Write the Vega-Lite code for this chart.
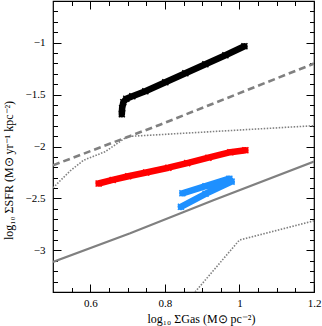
{
  "$schema": "https://vega.github.io/schema/vega-lite/v6.json",
  "width": 261,
  "height": 291,
  "autosize": {"type": "none"},
  "padding": {"left": 53, "top": 1, "right": 8, "bottom": 34},
  "background": "white",
  "config": {
    "view": {"stroke": "black", "strokeWidth": 1.2},
    "axis": {
      "labelFont": "Liberation Serif",
      "titleFont": "Liberation Serif",
      "labelFontSize": 11,
      "titleFontSize": 12,
      "titleFontWeight": "normal",
      "labelColor": "black",
      "titleColor": "black",
      "grid": false,
      "tickColor": "black",
      "tickWidth": 1,
      "domain": false
    }
  },
  "datasets": {
    "curves": [
      {"curve": "solid", "i": 0, "x": 0.5, "y": -3.11},
      {"curve": "solid", "i": 1, "x": 0.707, "y": -2.835},
      {"curve": "solid", "i": 2, "x": 0.93, "y": -2.517},
      {"curve": "solid", "i": 3, "x": 1.2, "y": -2.144},
      {"curve": "dashed", "i": 0, "x": 0.5, "y": -2.181},
      {"curve": "dashed", "i": 1, "x": 0.787, "y": -1.79},
      {"curve": "dashed", "i": 2, "x": 1.2, "y": -1.202},
      {"curve": "dotted1", "i": 0, "x": 0.5, "y": -2.398},
      {"curve": "dotted1", "i": 1, "x": 0.546, "y": -2.235},
      {"curve": "dotted1", "i": 2, "x": 0.582, "y": -2.132},
      {"curve": "dotted1", "i": 3, "x": 0.64, "y": -2.05},
      {"curve": "dotted1", "i": 4, "x": 0.699, "y": -1.904},
      {"curve": "dotted1", "i": 5, "x": 1.2, "y": -1.8},
      {"curve": "dotted2", "i": 0, "x": 0.881, "y": -3.4},
      {"curve": "dotted2", "i": 1, "x": 1.0, "y": -2.9},
      {"curve": "dotted2", "i": 2, "x": 1.2, "y": -2.715}
    ],
    "tracks": [
      {"series": "black", "i": 0, "x": 0.6846, "y": -1.689},
      {"series": "black", "i": 1, "x": 0.6854, "y": -1.632},
      {"series": "black", "i": 2, "x": 0.6886, "y": -1.574},
      {"series": "black", "i": 3, "x": 0.6966, "y": -1.54},
      {"series": "black", "i": 4, "x": 0.7128, "y": -1.516},
      {"series": "black", "i": 5, "x": 0.7477, "y": -1.468},
      {"series": "black", "i": 6, "x": 0.8013, "y": -1.382},
      {"series": "black", "i": 7, "x": 0.855, "y": -1.295},
      {"series": "black", "i": 8, "x": 0.9087, "y": -1.209},
      {"series": "black", "i": 9, "x": 0.9624, "y": -1.122},
      {"series": "black", "i": 10, "x": 1.0134, "y": -1.036},
      {"series": "red", "i": 0, "x": 0.6223, "y": -2.356},
      {"series": "red", "i": 1, "x": 0.66, "y": -2.322},
      {"series": "red", "i": 2, "x": 0.702, "y": -2.286},
      {"series": "red", "i": 3, "x": 0.75, "y": -2.25},
      {"series": "red", "i": 4, "x": 0.8094, "y": -2.204},
      {"series": "red", "i": 5, "x": 0.86, "y": -2.16},
      {"series": "red", "i": 6, "x": 0.9168, "y": -2.108},
      {"series": "red", "i": 7, "x": 0.9758, "y": -2.055},
      {"series": "red", "i": 8, "x": 1.016, "y": -2.036},
      {"series": "blue", "i": 0, "x": 0.847, "y": -2.45},
      {"series": "blue", "i": 1, "x": 0.909, "y": -2.382},
      {"series": "blue", "i": 2, "x": 0.973, "y": -2.31},
      {"series": "blue", "i": 3, "x": 0.979, "y": -2.338},
      {"series": "blue", "i": 4, "x": 0.909, "y": -2.455},
      {"series": "blue", "i": 5, "x": 0.843, "y": -2.58}
    ]
  },
  "layer": [
    {
      "data": {"name": "curves"},
      "transform": [{"filter": "datum.curve === 'solid'"}],
      "mark": {"type": "line", "color": "#808080", "strokeWidth": 2.2, "clip": true},
      "encoding": {
        "x": {"field": "x", "type": "quantitative", "scale": {"domain": [0.5, 1.2], "nice": false, "zero": false},
          "axis": {"orient": "bottom", "values": [0.6, 0.8, 1, 1.2], "format": "~g", "ticks": false, "tickSize": 0, "labelPadding": 5, "labelFlush": false, "labelOverlap": false,
            "title": "log₁₀ ΣGas (M⊙ pc⁻²)", "titleX": 148, "titleY": 30, "titleAlign": "center", "titleBaseline": "alphabetic"}},
        "y": {"field": "y", "type": "quantitative", "scale": {"domain": [-3.4, -0.6], "nice": false, "zero": false},
          "axis": {"orient": "left", "values": [-3, -2.5, -2, -1.5, -1], "format": "~g", "ticks": false, "tickSize": 0, "labelPadding": 8, "labelFlush": false, "labelOverlap": false,
            "title": "log₁₀ ΣSFR (M⊙ yr⁻¹ kpc⁻²)", "titleX": -41, "titleY": 169, "titleAngle": 270, "titleAlign": "center", "titleBaseline": "alphabetic"}},
        "order": {"field": "i", "type": "quantitative"}
      }
    },
    {
      "data": {"name": "curves"},
      "transform": [{"filter": "datum.curve === 'dashed'"}],
      "mark": {"type": "line", "color": "#808080", "strokeWidth": 2.6, "strokeDash": [7, 4], "clip": true},
      "encoding": {
        "x": {"field": "x", "type": "quantitative",
          "axis": {"orient": "bottom", "values": [0.6, 0.8, 1, 1.2], "labels": false, "ticks": true, "tickSize": 8, "offset": -8, "title": null}},
        "y": {"field": "y", "type": "quantitative",
          "axis": {"orient": "left", "values": [-3, -2.5, -2, -1.5, -1], "labels": false, "ticks": true, "tickSize": 8, "offset": -8, "title": null}},
        "order": {"field": "i", "type": "quantitative"}
      }
    },
    {
      "data": {"name": "curves"},
      "transform": [{"filter": "datum.curve === 'dotted1' || datum.curve === 'dotted2'"}],
      "mark": {"type": "line", "color": "#808080", "strokeWidth": 1.6, "strokeDash": [1.5, 1.5], "clip": true},
      "encoding": {
        "x": {"field": "x", "type": "quantitative",
          "axis": {"orient": "bottom", "values": [0.55, 0.65, 0.7, 0.75, 0.85, 0.9, 0.95, 1.05, 1.1, 1.15], "labels": false, "ticks": true, "tickSize": 4.5, "offset": -4.5, "title": null}},
        "y": {"field": "y", "type": "quantitative",
          "axis": {"orient": "left", "values": [-3.3, -3.2, -3.1, -2.9, -2.8, -2.7, -2.6, -2.4, -2.3, -2.2, -2.1, -1.9, -1.8, -1.7, -1.6, -1.4, -1.3, -1.2, -1.1, -0.9, -0.8, -0.7], "labels": false, "ticks": true, "tickSize": 4.5, "offset": -4.5, "title": null}},
        "detail": {"field": "curve"},
        "order": {"field": "i", "type": "quantitative"}
      }
    },
    {
      "data": {"name": "tracks"},
      "mark": {"type": "line", "strokeWidth": 6.5, "strokeCap": "round", "strokeJoin": "round", "clip": true},
      "encoding": {
        "x": {"field": "x", "type": "quantitative",
          "axis": {"orient": "top", "values": [0.6, 0.8, 1, 1.2], "labels": false, "ticks": true, "tickSize": 8, "offset": -8, "title": null}},
        "y": {"field": "y", "type": "quantitative",
          "axis": {"orient": "right", "values": [-3, -2.5, -2, -1.5, -1], "labels": false, "ticks": true, "tickSize": 8, "offset": -8, "title": null}},
        "color": {"field": "series", "type": "nominal", "scale": {"domain": ["black", "red", "blue"], "range": ["#000000", "#ff0000", "#1e90ff"]}, "legend": null},
        "detail": {"field": "series"},
        "order": {"field": "i", "type": "quantitative"}
      }
    },
    {
      "data": {"name": "tracks"},
      "mark": {"type": "point", "shape": "M-1,-1L1,1M-1,1L1,-1", "filled": false, "strokeWidth": 1.5, "size": 36, "opacity": 1, "clip": true},
      "encoding": {
        "x": {"field": "x", "type": "quantitative",
          "axis": {"orient": "top", "values": [0.55, 0.65, 0.7, 0.75, 0.85, 0.9, 0.95, 1.05, 1.1, 1.15], "labels": false, "ticks": true, "tickSize": 4.5, "offset": -4.5, "title": null}},
        "y": {"field": "y", "type": "quantitative",
          "axis": {"orient": "right", "values": [-3.3, -3.2, -3.1, -2.9, -2.8, -2.7, -2.6, -2.4, -2.3, -2.2, -2.1, -1.9, -1.8, -1.7, -1.6, -1.4, -1.3, -1.2, -1.1, -0.9, -0.8, -0.7], "labels": false, "ticks": true, "tickSize": 4.5, "offset": -4.5, "title": null}},
        "color": {"field": "series", "type": "nominal", "scale": {"domain": ["black", "red", "blue"], "range": ["#000000", "#ff0000", "#1e90ff"]}, "legend": null}
      }
    }
  ],
  "resolve": {"axis": {"x": "independent", "y": "independent"}}
}
